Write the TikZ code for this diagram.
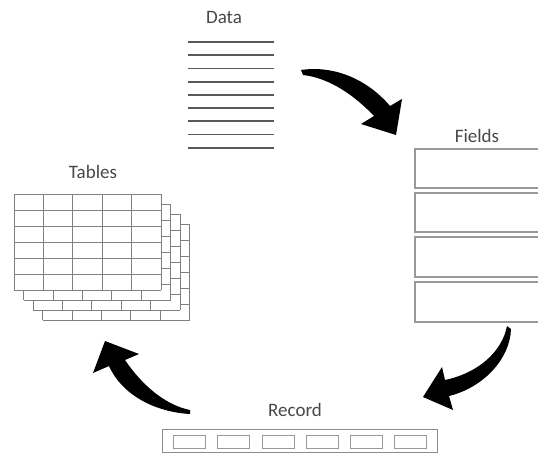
\documentclass[tikz,border=0pt]{standalone}
\usepackage{fontspec}
\setmainfont{Carlito}
\begin{document}
\begin{tikzpicture}[x=1pt,y=-1pt,
  lbl/.style={font=\fontsize{19}{19}\selectfont, text=black!72, inner sep=0pt},
  dataline/.style={draw=black!65, line width=1.8pt},
  gridline/.style={draw=black!50, line width=0.8pt},
  fieldbox/.style={draw=black!40, line width=1.3pt},
  bigarrow/.style={fill=black}]
\useasboundingbox (0,0) rectangle (538,453);
% labels
\node[lbl] (data) at (224,17) {Data};
\node[lbl] (fields) at (477,136) {Fields};
\node[lbl] (tables) at (93,172) {Tables};
\node[lbl] (record) at (295,410) {Record};
% data lines
\foreach \i in {0,...,8}
  \draw[dataline] (188,{42+13.2*\i}) -- (274,{42+13.2*\i});
% fields boxes
\foreach \t/\b in {149/188, 193/232, 237/277, 282/322}
  \draw[fieldbox] (540,\t) -- (415,\t) -- (415,\b) -- (540,\b);
% tables
\foreach \k in {3,2,1,0} {
  \begin{scope}[shift={(9.5*\k,10*\k)}]
    \fill[white] (14,194) rectangle (161,290);
    \foreach \r in {0,...,6} \draw[gridline] (14,{194+16*\r}) -- (161,{194+16*\r});
    \foreach \c in {0,...,5} \draw[gridline] ({14+29.4*\c},194) -- ({14+29.4*\c},290);
  \end{scope}
}
% record
\draw[draw=black!45, line width=1pt] (162,429) rectangle (437,452);
\foreach \x in {173,217.5,262,306,350,394}
  \draw[draw=black!40, line width=0.9pt] (\x,435) rectangle ++(32,13);
% arrows
\fill[bigarrow] (301,70) .. controls (335,65) and (368,80) .. (390,106) -- (402,99) -- (396,135) -- (361,124) -- (374,116) .. controls (355,96) and (330,78) .. (303,75) -- cycle;
\fill[bigarrow] (507,326) .. controls (502,352) and (478,373) .. (445,380) -- (442,367) -- (423,397) -- (453,410) -- (449,396) .. controls (482,388) and (510,360) .. (511,329) -- cycle;
\fill[bigarrow] (190,410) .. controls (165,405) and (142,385) .. (125,360) -- (139,354) -- (105,341) -- (93,373) -- (109,366) .. controls (122,395) and (155,412) .. (190,414) -- cycle;
\end{tikzpicture}
\end{document}
